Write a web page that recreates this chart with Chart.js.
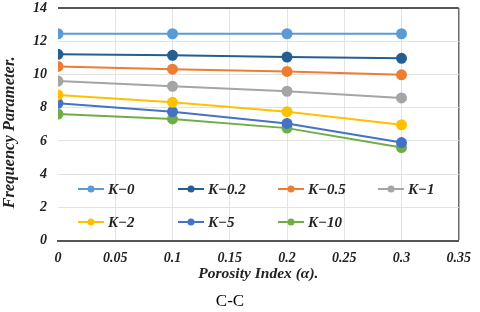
<!DOCTYPE html>
<html>
<head>
<meta charset="utf-8">
<script src="https://cdn.jsdelivr.net/npm/chart.js@4"></script>
<style>
  html, body { margin: 0; padding: 0; background: #fff; }
  #wrap { width: 480px; height: 312px; position: relative; }
</style>
</head>
<body>
<div id="wrap"><canvas id="chart-cc"></canvas></div>
<script>
const porosity = [0, 0.1, 0.2, 0.3];
const labels = ["K\u22120", "K\u22120.2", "K\u22120.5", "K\u22121", "K\u22122", "K\u22125", "K\u221210"];
const k0 = [12.45, 12.45, 12.45, 12.45];
const k02 = [11.21, 11.15, 11.05, 10.97];
const k05 = [10.48, 10.32, 10.18, 9.98];
const k1 = [9.6, 9.29, 8.99, 8.59];
const k2 = [8.77, 8.32, 7.76, 6.97];
const k5 = [8.26, 7.76, 7.05, 5.9];
const k10 = [7.62, 7.32, 6.77, 5.6];
const colors = ["#5B9BD5", "#255E91", "#ED7D31", "#A5A5A5", "#FFC000", "#4472C4", "#70AD47"];

const serif = "'Liberation Serif', 'Times New Roman', serif";

const series = [k0, k02, k05, k1, k2, k5, k10];
const datasets = series.map((vals, i) => ({
  label: labels[i],
  data: vals.map((v, j) => ({ x: porosity[j], y: v })),
  borderColor: colors[i],
  backgroundColor: colors[i],
  borderWidth: 2,
  pointRadius: 4.5,
  pointHoverRadius: 4.5,
  showLine: true,
  fill: false,
}));

// legend drawn inside the plot area, 4 per row
const innerLegend = {
  id: "innerLegend",
  afterDatasetsDraw(chart) {
    const ctx = chart.ctx;
    const area = chart.chartArea;
    ctx.save();
    ctx.font = "bold italic 15px " + serif;
    ctx.textBaseline = "middle";
    chart.data.datasets.forEach((ds, i) => {
      const col = i % 4, row = Math.floor(i / 4);
      const x = area.left + 20 + col * 100;
      const y = area.top + 181 + row * 33;
      ctx.strokeStyle = ds.borderColor;
      ctx.lineWidth = 2;
      ctx.beginPath();
      ctx.moveTo(x, y);
      ctx.lineTo(x + 26, y);
      ctx.stroke();
      ctx.fillStyle = ds.borderColor;
      ctx.beginPath();
      ctx.arc(x + 13, y, 3.5, 0, Math.PI * 2);
      ctx.fill();
      ctx.fillStyle = "#222";
      ctx.fillText(ds.label, x + 30, y + 1);
    });
    ctx.restore();
  },
};

new Chart(document.getElementById("chart-cc"), {
  type: "scatter",
  data: { datasets },
  plugins: [innerLegend],
  options: {
    responsive: true,
    maintainAspectRatio: false,
    animation: false,
    layout: { padding: { top: 8, right: 20, left: 0, bottom: 0 } },
    plugins: {
      legend: { display: false },
      tooltip: { enabled: false },
      title: {
        display: true,
        position: "bottom",
        text: "C-C",
        color: "#000",
        font: { family: serif, size: 17, weight: "normal" },
        padding: { top: 8, bottom: 0 },
      },
    },
    scales: {
      x: {
        type: "linear",
        min: 0,
        max: 0.35,
        ticks: {
          stepSize: 0.05,
          padding: 9,
          color: "#222",
          font: { family: serif, size: 14, weight: "bold", style: "italic" },
          callback: (v) => String(+v.toFixed(2)),
        },
        grid: {
          drawTicks: false,
          color: (c) => (c.index === 0 ? "rgba(0,0,0,0)" : c.index === 7 ? "#6b6b6b" : "#e3e3e3"),
          lineWidth: (c) => (c.index === 7 ? 1.5 : 1),
        },
        border: { display: true, color: "#555", width: 2 },
        title: {
          display: true,
          text: "Porosity Index (\u03b1).",
          color: "#222",
          font: { family: serif, size: 15.5, weight: "bold", style: "italic" },
          padding: { top: 0, bottom: 0 },
        },
        afterFit: (s) => { s.height = 43; },
      },
      y: {
        min: 0,
        max: 14,
        ticks: {
          stepSize: 2,
          padding: 11,
          color: "#222",
          font: { family: serif, size: 14, weight: "bold", style: "italic" },
        },
        grid: {
          drawTicks: false,
          color: (c) => (c.tick.value === 14 ? "#555" : c.tick.value === 0 ? "rgba(0,0,0,0)" : "#e3e3e3"),
          lineWidth: (c) => (c.tick.value === 14 ? 2 : 1),
        },
        border: { display: false },
        title: {
          display: true,
          text: "Frequency Parameter.    ",
          color: "#222",
          font: { family: serif, size: 16.5, weight: "bold", style: "italic" },
          padding: { top: 0, bottom: 3 },
        },
        afterFit: (s) => { s.width = 58; s.paddingTop = 0; s.paddingBottom = 0; },
      },
    },
  },
});
</script>
</body>
</html>
